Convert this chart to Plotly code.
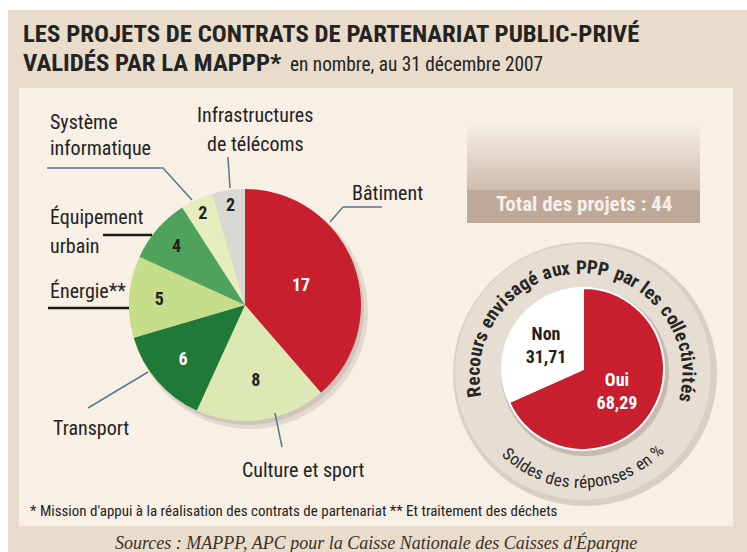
import math
import plotly.graph_objects as go

W, H = 747, 552

# ---------------- data ----------------
categories = ["Bâtiment", "Culture et sport", "Transport", "Énergie**",
              "Équipement urbain", "Système informatique", "Infrastructures de télécoms"]
project_counts = [17, 8, 6, 5, 4, 2, 2]
slice_colors = ["#c71f2d", "#dde9b4", "#1f7a37", "#c6dd89", "#4fa25b", "#e5edbc", "#d9d9d3"]
number_colors = ["#ffffff", "#222222", "#ffffff", "#222222", "#222222", "#222222", "#222222"]

survey_labels = ["Oui", "Non"]
survey_values = [68.29, 31.71]
survey_colors = ["#c71f2d", "#ffffff"]
survey_text_colors = ["#ffffff", "#222222"]

title_line1 = "LES PROJETS DE CONTRATS DE PARTENARIAT PUBLIC-PRIVÉ"
title_line2 = "VALIDÉS PAR LA MAPPP*"
title_sub = "en nombre, au 31 décembre 2007"
total_text = "Total des projets : 44"
ring_top_text = "Recours envisagé aux PPP par les collectivités"
ring_bottom_text = "Soldes des réponses en %"
footnote = "* Mission d'appui à la réalisation des contrats de partenariat ** Et traitement des déchets"
sources = "Sources : MAPPP, APC pour la Caisse Nationale des Caisses d'Épargne"

NARROW = "Roboto Condensed, Liberation Sans Narrow, DejaVu Sans Condensed, Roboto, sans-serif"
SERIF = "Liberation Serif, DejaVu Serif, serif"
TXT = "#232323"
LEADER = "#58788d"


def px(x):
    return x / W


def py(y):
    return 1 - y / H


fig = go.Figure()

# main pie
cx, cy, r = 245, 305, 116
fig.add_trace(go.Pie(
    labels=categories, values=project_counts, sort=False, direction="clockwise",
    rotation=0, marker=dict(colors=slice_colors, line=dict(width=0)),
    texttemplate="<b>%{value}</b>", textposition="inside",
    insidetextorientation="horizontal",
    insidetextfont=dict(family=NARROW, size=18, color=number_colors),
    hoverinfo="label+value", showlegend=False,
    domain=dict(x=[px(cx - r), px(cx + r)], y=[py(cy + r), py(cy - r)]),
))

# survey pie
scx, scy, sr = 583, 369, 81
fig.add_trace(go.Pie(
    labels=survey_labels, values=survey_values, sort=False, direction="clockwise",
    rotation=0, marker=dict(colors=survey_colors, line=dict(width=2, color="#ffffff")),
    texttemplate="<b>%{label}<br>%{value:.2f}</b>", textposition="inside",
    insidetextorientation="horizontal",
    insidetextfont=dict(family=NARROW, size=18, color=survey_text_colors),
    hoverinfo="label+value", showlegend=False,
    domain=dict(x=[px(scx - sr), px(scx + sr)], y=[py(scy + sr), py(scy - sr)]),
))

shapes = []


def rect(x0, y0, x1, y1, color, layer="below"):
    shapes.append(dict(type="rect", xref="paper", yref="paper", x0=px(x0), x1=px(x1),
                       y0=py(y1), y1=py(y0), fillcolor=color, line=dict(width=0), layer=layer))


def circle(x, y, rad, color, layer="below", lc=None, lw=0):
    shapes.append(dict(type="circle", xref="paper", yref="paper", x0=px(x - rad), x1=px(x + rad),
                       y0=py(y + rad), y1=py(y - rad), fillcolor=color,
                       line=dict(width=lw, color=lc or color), layer=layer))


def line(pts, color=LEADER, width=1.5):
    path = "M " + " L ".join(f"{px(a):.5f},{py(b):.5f}" for a, b in pts)
    shapes.append(dict(type="path", xref="paper", yref="paper", path=path,
                       line=dict(color=color, width=width), layer="above"))


# backgrounds
rect(0, 0, W, 10, "#ffffff")
rect(0, 0, 8, H, "#ffffff")
rect(8, 10, W, H, "#eadcca")
rect(19, 88, 733, 526, "#f8efe5")

# total box with gradient
steps = 14
for i in range(steps):
    t = i / (steps - 1)
    y0 = 122 + i * (68 / steps)
    y1 = y0 + 68 / steps + 0.6
    c0 = (248, 239, 229)
    c1 = (208, 190, 176)
    col = tuple(int(c0[k] + (c1[k] - c0[k]) * t) for k in range(3))
    rect(467, y0, 700, y1, "rgb(%d,%d,%d)" % col)
rect(467, 190, 700, 223, "#bea898")

# pie shadow
circle(cx + 5, cy + 6, r + 2, "rgba(150,140,130,0.22)")
circle(cx + 3, cy + 4, r, "rgba(150,140,130,0.25)")

# ring
circle(585, 374, 132, "rgba(160,148,138,0.35)")
circle(583, 372, 128, "#e7ded3")
circle(scx + 2, scy + 3, sr + 3, "rgba(140,120,110,0.35)")

# leader lines
line([(47, 168), (163, 168), (192, 200)])
line([(228, 157), (230, 188)])
line([(330, 222), (343, 207), (382, 207)])
line([(88, 408), (148, 372)])
line([(275, 413), (282, 447)])
line([(103, 235), (152, 235)], color="#1a1a1a", width=2.5)
line([(48, 308), (129, 308)], color="#1a1a1a", width=2.5)

annotations = []


def text(x, y, s, size=17, color=TXT, family=NARROW, xanchor="left", yanchor="middle",
         angle=0, bold=False):
    annotations.append(dict(x=px(x), y=py(y), xref="paper", yref="paper", showarrow=False,
                            text=f"<b>{s}</b>" if bold else s, xanchor=xanchor, yanchor=yanchor,
                            textangle=angle,
                            font=dict(family=family, size=size, color=color)))


# title
text(21, 33, title_line1, size=24.8, bold=True)
text(21, 63, title_line2, size=24.8, bold=True)
text(288, 65, title_sub, size=19.3)

# category labels
LS = 20
text(48, 122, "Système", size=LS)
text(48, 148, "informatique", size=LS)
text(255, 115, "Infrastructures", size=LS, xanchor="center")
text(255, 144, "de télécoms", size=LS, xanchor="center")
text(350, 193, "Bâtiment", size=LS)
text(48, 217, "Équipement", size=LS)
text(48, 246, "urbain", size=LS)
text(48, 291, "Énergie**", size=LS)
text(51, 428, "Transport", size=LS)
text(240, 470, "Culture et sport", size=LS)

# total
text(584, 204, total_text, size=21, color="#f6eee8", xanchor="center", bold=True)

# footnote / sources
text(28, 511, footnote, size=15)
text(376, 542, f"<i>{sources}</i>", size=18, color="#3a3029", family=SERIF, xanchor="center")


# curved texts
def char_w(ch):
    if ch in "ilj":
        return 0.25
    if ch in "tfr":
        return 0.33
    if ch == " ":
        return 0.26
    if ch in ".,'":
        return 0.22
    if ch == "m":
        return 0.78
    if ch in "w%":
        return 0.7
    if ch.isupper():
        return 0.57
    return 0.5


def arc_text(s, ccx, ccy, rad, th0, th1, size, bold, clockwise):
    widths = [char_w(c) for c in s]
    total = sum(widths)
    acc = 0
    for c, w in zip(s, widths):
        frac = (acc + w / 2) / total
        acc += w
        th = th0 + (th1 - th0) * frac
        rr = math.radians(th)
        x = ccx + rad * math.cos(rr)
        y = ccy - rad * math.sin(rr)
        ang = (90 - th) if clockwise else (270 - th)
        if c == " ":
            continue
        text(x, y, c, size=size, xanchor="center", angle=ang, bold=bold, color="#262626")


arc_text(ring_top_text, 581, 375, 108, 192, -15, 19, True, True)
arc_text(ring_bottom_text, 581, 375, 107, 225, 318, 17, False, False)

fig.update_layout(
    width=W, height=H, margin=dict(l=0, r=0, t=0, b=0),
    paper_bgcolor="#eadcca", plot_bgcolor="rgba(0,0,0,0)",
    separators=", ", shapes=shapes, annotations=annotations,
    showlegend=False,
)

fig.write_html("out.html", config={"displayModeBar": False},
               post_script="document.body.style.margin='0px';document.body.style.padding='0px';")
